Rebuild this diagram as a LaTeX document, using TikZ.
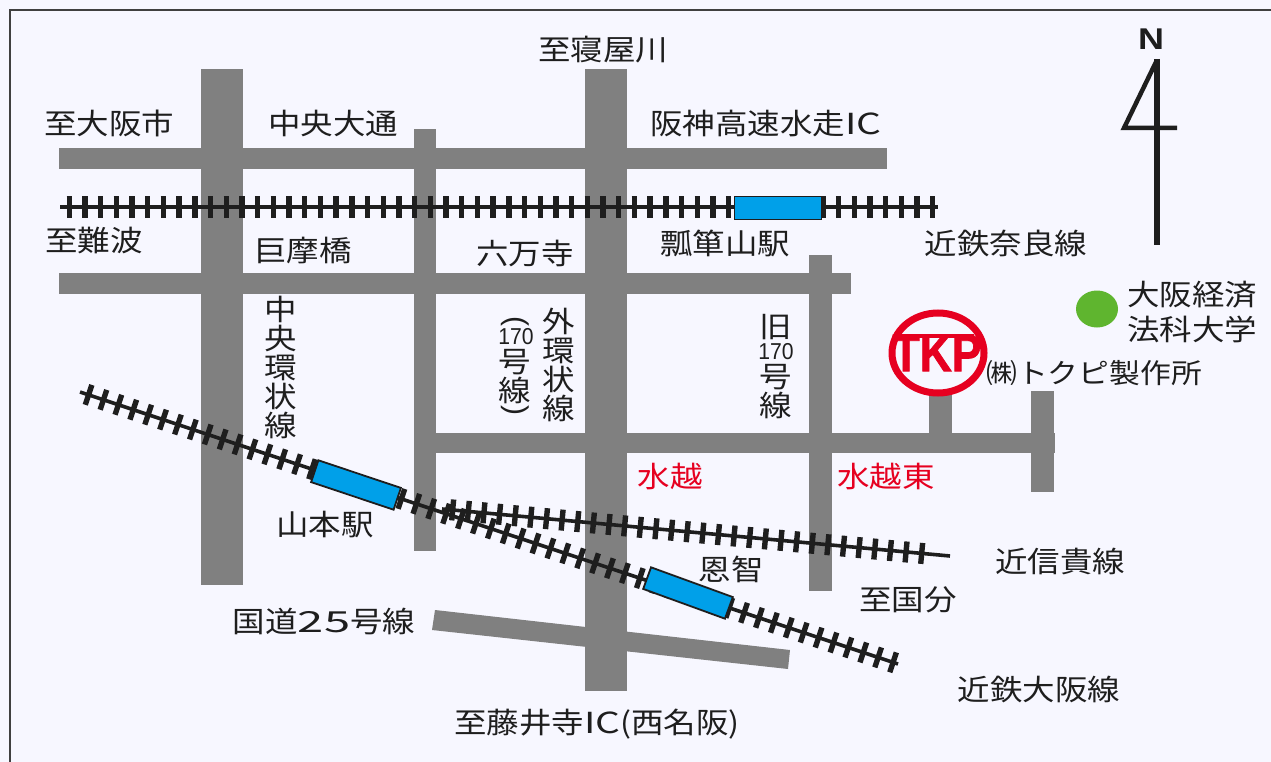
\documentclass[tikz,border=0pt]{standalone}
\usepackage{fontspec}
\usepackage{graphicx}
\setmainfont{Noto Sans CJK JP}[FakeStretch=1.12]
\newfontfamily\latinfont{Liberation Sans}
\newfontfamily\logofont{Liberation Sans Bold}[FakeBold=1.5]
\newfontfamily\northfont{Liberation Sans Bold}
\usetikzlibrary{shapes.geometric}
\definecolor{pagebg}{HTML}{F7F7FF}
\definecolor{roadgray}{HTML}{808080}
\definecolor{stationblue}{HTML}{00A0E9}
\definecolor{logored}{HTML}{E60020}
\definecolor{uniGreen}{HTML}{5FB52F}
\definecolor{inkdark}{HTML}{1E1E1E}
\newcommand{\widen}[2]{\scalebox{#1}[1]{#2}}
\tikzset{
  road/.style={fill=roadgray,draw=none},
  railbase/.style={draw=inkdark,line width=3.6pt},
  railtick/.style={draw=inkdark,line width=21pt,dash pattern=on 5.4pt off 10.3pt},
  stationbox/.style={draw=inkdark,fill=stationblue,line width=1.8pt,minimum width=87pt,minimum height=23pt,inner sep=0pt},
  lbl/.style={font=\fontsize{29}{29}\selectfont,text=inkdark,inner sep=0pt,anchor=center},
  vlbl/.style={font=\fontsize{29}{29}\selectfont,text=inkdark,inner sep=0pt,anchor=center,align=center},
  numlbl/.style={font=\latinfont\fontsize{23}{23}\selectfont,text=inkdark,inner sep=0pt,anchor=center},
  parenlbl/.style={font=\latinfont\fontsize{30}{30}\selectfont,text=inkdark,inner sep=0pt,anchor=center,rotate=-90},
  redlbl/.style={lbl,text=logored},
}
\begin{document}
\begin{tikzpicture}[x=1pt,y=-1pt]
\useasboundingbox (0,0) rectangle (1271,762);
\fill[pagebg] (0,0) rectangle (1271,762);
\draw[draw=inkdark!85,line width=2.4pt] (1271,10) -- (10,10) -- (10,762);
% roads
\fill[road] (201,69) rectangle (243,585);
\fill[road] (414,129) rectangle (436,551);
\fill[road] (809,255) rectangle (832,591);
\fill[road] (59,148) rectangle (887,169);
\fill[road] (59,273) rectangle (851,294);
\fill[road] (436,433) rectangle (1055,453);
\fill[road] (929,390) rectangle (952,433);
\fill[road] (1031,391) rectangle (1054,492);
\fill[road] (435,610) -- (790,650) -- (788,669) -- (432,630) -- cycle;
\fill[road] (585,69) rectangle (627,691);
% railways
\coordinate (r1a) at (60,207); \coordinate (r1b) at (938,207); \coordinate (r1s) at (66.5,207);
\coordinate (r2a) at (80,392); \coordinate (r2b) at (898,664); \coordinate (r2s) at (86,394);
\coordinate (r3a) at (442,509); \coordinate (r3b) at (950,556);
\coordinate (r3s) at (450,509.7); \coordinate (r3c) at (928,554);
\draw[railbase] (r1a) -- (r1b);
\draw[railtick] (r1s) -- (r1b);
\draw[railbase] (r2a) -- (r2b);
\draw[railtick] (r2s) -- (r2b);
\draw[railbase] (r3a) -- (r3b);
\draw[railtick] (r3s) -- (r3c);
% stations
\node[stationbox] (hyotan) at (778,208) {};
\node[stationbox,rotate=-18.5] (yamamoto) at (356,485) {};
\node[stationbox,rotate=-20] (onji) at (688,593) {};
% north arrow
\node[text=inkdark,inner sep=0pt] (north) at (1151,39) {\widen{1.2}{\northfont\fontsize{30}{30}\selectfont N}};
\coordinate (nt) at (1157,59); \coordinate (nb) at (1157,245);
\coordinate (nl) at (1124,128); \coordinate (nr) at (1177,128);
\draw[draw=inkdark,line width=6.5pt] (nt) -- (nb);
\draw[draw=inkdark,line width=4.5pt,line join=miter] (1156,62) -- (nl) -- (nr);
% TKP logo
\node[draw=logored,fill=pagebg,line width=7pt,ellipse,minimum width=92pt,minimum height=80pt,inner sep=0pt] (tkp) at (938,353) {};
\fill[logored] (897,333.5) rectangle (974,338);
\node[text=logored,inner sep=0pt] (tkptext) at (937,353) {\widen{0.84}{\logofont\fontsize{53}{53}\selectfont TKP}};
% university marker
\node[fill=uniGreen,ellipse,minimum width=42pt,minimum height=37pt,inner sep=0pt] (univ) at (1097,309) {};
% labels
\node[lbl] (a1) at (603,50) {至寝屋川};
\node[lbl] (a2) at (109,123) {至大阪市};
\node[lbl] (a3) at (333,123) {中央大通};
\node[lbl] (a4) at (766,123) {阪神高速水走\widen{1.2}{IC}};
\node[lbl] (a5) at (94,241) {至難波};
\node[lbl] (a6) at (303,251) {巨摩橋};
\node[lbl] (a7) at (525,253) {六万寺};
\node[lbl] (a8) at (725,243) {瓢箪山駅};
\node[lbl] (a9) at (1006,243) {近鉄奈良線};
\node[lbl] (a10) at (1192,295) {大阪経済};
\node[lbl] (a11) at (1192,329) {法科大学};
\node[lbl,font=\fontsize{27.5}{27.5}\selectfont] (a12) at (1094,373) {㈱トクピ製作所};
\node[redlbl] (a13) at (670,476) {水越};
\node[redlbl] (a14) at (886,476) {水越東};
\node[lbl] (a15) at (325,525) {山本駅};
\node[lbl] (a16) at (731,569) {恩智};
\node[lbl] (a17) at (1060,562) {近信貴線};
\node[lbl] (a18) at (908,600) {至国分};
\node[lbl] (a19) at (324,621) {国道\widen{1.45}{25}号線};
\node[lbl] (a20) at (1039,690) {近鉄大阪線};
\node[lbl] (a21) at (597,724) {至藤井寺\widen{1.2}{IC}(西名阪)};
% vertical labels
\node[vlbl] (v1) at (281,367) {中\\央\\環\\状\\線};
\node[vlbl] (v2) at (559,365) {外\\環\\状\\線};
\node[parenlbl] (v3a) at (515,321) {(};
\node[numlbl] (v3b) at (516,337) {\widen{0.92}{170}};
\node[vlbl] (v3c) at (515,377) {号\\線};
\node[parenlbl] (v3d) at (515,410) {)};
\node[lbl] (v4a) at (776,327) {旧};
\node[numlbl] (v4b) at (776,352) {\widen{0.92}{170}};
\node[vlbl] (v4c) at (776,392) {号\\線};
\end{tikzpicture}
\end{document}
